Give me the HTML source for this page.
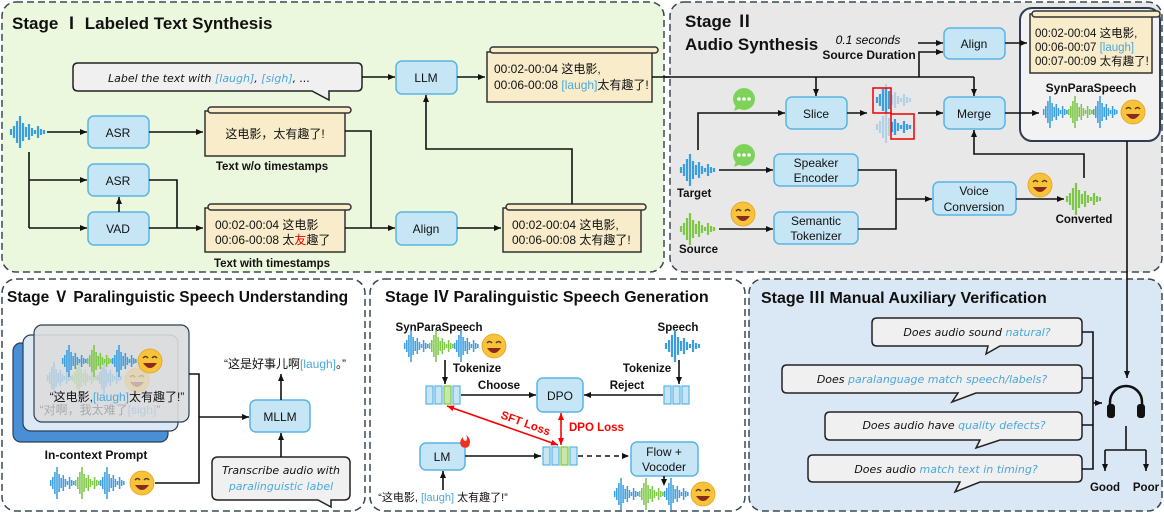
<!DOCTYPE html>
<html><head><meta charset="utf-8"><style>
html,body{margin:0;padding:0;background:#fff}
svg{display:block}
text{font-family:"Liberation Sans","Noto Sans CJK SC",sans-serif}
.t{font-weight:bold;font-size:17px;fill:#111}
.b{font-size:12px;fill:#111}
.lb{font-weight:bold;font-size:11.5px;fill:#111}
.hw{font-family:"DejaVu Sans","Noto Sans CJK SC",sans-serif;font-style:italic;font-size:11px;fill:#111}
.bl{fill:#4aa8dc}
.box{fill:#c6e6f6;stroke:#5ab4e6;stroke-width:1.5}
.sc{fill:#f8ecca;stroke:#333;stroke-width:1.5}
.ln{fill:none;stroke:#111;stroke-width:1.6}
.bub{fill:#f0f0f0;stroke:#222;stroke-width:1.5}
</style></head><body>
<svg width="1164" height="513" viewBox="0 0 1164 513" xmlns="http://www.w3.org/2000/svg">
<defs>
<marker id="a" markerWidth="8" markerHeight="8" refX="7" refY="4" orient="auto" markerUnits="userSpaceOnUse"><path d="M0,1 L7,4 L0,7 Z" fill="#111"/></marker>
<marker id="r" markerWidth="8" markerHeight="8" refX="7" refY="4" orient="auto-start-reverse" markerUnits="userSpaceOnUse"><path d="M0,1 L7,4 L0,7 Z" fill="#f00"/></marker>
<g id="wb"><g stroke="#3a9ee0" stroke-width="2.2">
<line x1="1" y1="-3" x2="1" y2="3"/><line x1="4" y1="-6" x2="4" y2="6"/><line x1="7" y1="-11" x2="7" y2="11"/><line x1="10" y1="-16" x2="10" y2="16"/><line x1="13" y1="-9" x2="13" y2="9"/><line x1="16" y1="-5" x2="16" y2="5"/><line x1="19" y1="-8" x2="19" y2="8"/><line x1="22" y1="-4" x2="22" y2="4"/><line x1="25" y1="-2" x2="25" y2="2"/><line x1="28" y1="-6" x2="28" y2="6"/><line x1="31" y1="-3" x2="31" y2="3"/><line x1="34" y1="-2" x2="34" y2="2"/></g></g>
<g id="wg"><g stroke="#7cc746" stroke-width="2.2">
<line x1="1" y1="-3" x2="1" y2="3"/><line x1="4" y1="-6" x2="4" y2="6"/><line x1="7" y1="-11" x2="7" y2="11"/><line x1="10" y1="-16" x2="10" y2="16"/><line x1="13" y1="-9" x2="13" y2="9"/><line x1="16" y1="-5" x2="16" y2="5"/><line x1="19" y1="-8" x2="19" y2="8"/><line x1="22" y1="-4" x2="22" y2="4"/><line x1="25" y1="-2" x2="25" y2="2"/><line x1="28" y1="-6" x2="28" y2="6"/><line x1="31" y1="-3" x2="31" y2="3"/><line x1="34" y1="-2" x2="34" y2="2"/></g></g>
<g id="w3"><use href="#wb" transform="scale(0.7,1)"/><use href="#wg" transform="translate(25,0) scale(0.7,1)"/><use href="#wb" transform="translate(50,0) scale(0.7,1)"/></g>
<g id="emo"><circle r="12" fill="#f7c33a" stroke="#e8a020" stroke-width="0.8"/><path d="M-7,-3 q2.5,-3 5,0 M2,-3 q2.5,-3 5,0" stroke="#5a3a10" stroke-width="1.5" fill="none"/><path d="M-7,2 q7,10 14,0 z" fill="#8a2a1a"/></g>
<g id="chat"><circle r="11" fill="#7dd35a"/><path d="M-8,6 L-10,12 L-3,9 Z" fill="#7dd35a"/><circle cx="-5" r="1.8" fill="#fff"/><circle r="1.8" fill="#fff"/><circle cx="5" r="1.8" fill="#fff"/></g>
<clipPath id="c1" clipPathUnits="userSpaceOnUse"><rect x="873" y="88" width="18" height="25"/></clipPath>
<clipPath id="c2" clipPathUnits="userSpaceOnUse"><rect x="891" y="114" width="23" height="25"/></clipPath>
</defs>

<!-- Stage I -->
<rect x="2" y="2" width="662" height="270" rx="14" fill="#ebf8dd" stroke="#3a4a55" stroke-width="1.5" stroke-dasharray="7,4"/>
<text x="12" y="29" class="t">Stage Ⅰ Labeled Text Synthesis</text>
<path class="bub" d="M78,63 H357 q5,0 5,5 V86 q0,5 -5,5 H329 L329,100 L312,91 H78 q-5,0 -5,-5 V68 q0,-5 5,-5 Z"/>
<text x="108" y="82" class="hw">Label the text with <tspan class="bl">[laugh]</tspan>, <tspan class="bl">[sigh]</tspan>, ...</text>
<line class="ln" x1="362" y1="77" x2="395" y2="77" marker-end="url(#a)"/>
<rect class="box" x="396" y="61" width="61" height="33" rx="6"/><text x="426" y="82" class="b" text-anchor="middle">LLM</text>
<line class="ln" x1="457" y1="77" x2="485" y2="77" marker-end="url(#a)"/>
<rect class="sc" x="487" y="52" width="165" height="50"/><rect class="sc" x="490" y="47" width="168" height="6" rx="3"/>
<text x="494" y="73" class="b">00:02-00:04 这电影,</text><text x="494" y="89" class="b">00:06-00:08 <tspan class="bl">[laugh]</tspan>太有趣了!</text>
<line class="ln" x1="652" y1="77" x2="974" y2="77"/>
<use href="#wb" x="10" y="132"/>
<line class="ln" x1="47" y1="132" x2="87" y2="132" marker-end="url(#a)"/>
<rect class="box" x="88" y="116" width="61" height="32" rx="6"/><text x="118" y="137" class="b" text-anchor="middle">ASR</text>
<line class="ln" x1="149" y1="132" x2="203" y2="132" marker-end="url(#a)"/>
<rect class="sc" x="205" y="111" width="140" height="45"/><rect class="sc" x="208" y="107" width="143" height="6" rx="3"/>
<text x="275" y="138" class="b" text-anchor="middle">这电影，太有趣了!</text>
<text x="272" y="170" class="lb" text-anchor="middle">Text w/o timestamps</text>
<path class="ln" d="M29,152 V228"/>
<line class="ln" x1="29" y1="180" x2="87" y2="180" marker-end="url(#a)"/>
<line class="ln" x1="29" y1="228" x2="87" y2="228" marker-end="url(#a)"/>
<rect class="box" x="88" y="164" width="61" height="32" rx="6"/><text x="118" y="185" class="b" text-anchor="middle">ASR</text>
<rect class="box" x="88" y="212" width="61" height="33" rx="6"/><text x="118" y="233" class="b" text-anchor="middle">VAD</text>
<line class="ln" x1="119" y1="212" x2="119" y2="197" marker-end="url(#a)"/>
<path class="ln" d="M149,180 H177 V228"/>
<line class="ln" x1="149" y1="228" x2="203" y2="228" marker-end="url(#a)"/>
<rect class="sc" x="205" y="208" width="140" height="44"/><rect class="sc" x="208" y="204" width="143" height="6" rx="3"/>
<text x="215" y="229" class="b">00:02-00:04 这电影</text><text x="215" y="244" class="b">00:06-00:08 太<tspan fill="#e00">友</tspan>趣了</text>
<text x="272" y="267" class="lb" text-anchor="middle">Text with timestamps</text>
<path class="ln" d="M345,131 H371 V228"/>
<line class="ln" x1="345" y1="228" x2="395" y2="228" marker-end="url(#a)"/>
<rect class="box" x="396" y="212" width="61" height="33" rx="6"/><text x="426" y="233" class="b" text-anchor="middle">Align</text>
<line class="ln" x1="457" y1="228" x2="501" y2="228" marker-end="url(#a)"/>
<rect class="sc" x="503" y="208" width="138" height="44"/><rect class="sc" x="506" y="204" width="140" height="6" rx="3"/>
<text x="512" y="229" class="b">00:02-00:04 这电影,</text><text x="512" y="244" class="b">00:06-00:08 太有趣了!</text>
<path class="ln" d="M572,204 V149 H426 V95" marker-end="url(#a)"/>

<!-- Stage II -->
<rect x="670" y="2" width="492" height="270" rx="14" fill="#e8e8e8" stroke="#3a4a55" stroke-width="1.5" stroke-dasharray="7,4"/>
<line class="ln" x1="664" y1="77" x2="974" y2="77"/>
<text x="685" y="27" class="t">Stage Ⅱ</text><text x="685" y="50" class="t">Audio Synthesis</text>
<text x="868" y="44" text-anchor="middle" style="font-style:italic;font-size:12px">0.1 seconds</text>
<text x="869" y="59" text-anchor="middle" class="lb" style="font-size:12px">Source Duration</text>
<line class="ln" x1="918" y1="43" x2="943" y2="43" marker-end="url(#a)"/>
<path class="ln" d="M919,77 V52 H943" marker-end="url(#a)"/>
<rect class="box" x="944" y="28" width="61" height="31" rx="6"/><text x="974" y="48" class="b" text-anchor="middle">Align</text>
<rect x="1020" y="8" width="140" height="133" rx="12" fill="#f2f2f2" stroke="#2c3e50" stroke-width="2"/>
<line class="ln" x1="1005" y1="43" x2="1027" y2="43" marker-end="url(#a)"/>
<rect class="sc" x="1030" y="14" width="122" height="59"/><rect class="sc" x="1032" y="11" width="128" height="6" rx="3"/>
<text x="1035" y="37" class="b" style="font-size:11.5px">00:02-00:04 这电影,</text>
<text x="1035" y="51" class="b" style="font-size:11.5px">00:06-00:07 <tspan class="bl">[laugh]</tspan></text>
<text x="1035" y="65" class="b" style="font-size:11.5px">00:07-00:09 太有趣了!</text>
<text x="1091" y="92" text-anchor="middle" class="lb" style="font-size:12px">SynParaSpeech</text>
<use href="#w3" x="1043" y="112"/>
<use href="#emo" x="1133" y="112"/>
<line class="ln" x1="816" y1="77" x2="816" y2="96" marker-end="url(#a)"/>
<line class="ln" x1="974" y1="77" x2="974" y2="96" marker-end="url(#a)"/>
<rect class="box" x="786" y="97" width="61" height="32" rx="6"/><text x="816" y="118" class="b" text-anchor="middle">Slice</text>
<rect class="box" x="944" y="97" width="61" height="32" rx="6"/><text x="974" y="118" class="b" text-anchor="middle">Merge</text>
<line class="ln" x1="847" y1="113" x2="867" y2="113" marker-end="url(#a)"/>
<g opacity="0.3"><use href="#wb" x="876" y="100"/><use href="#wb" x="876" y="127"/></g>
<g clip-path="url(#c1)"><use href="#wb" x="876" y="100"/></g>
<g clip-path="url(#c2)"><use href="#wb" x="876" y="127"/></g>
<rect x="873" y="88" width="18" height="25" fill="none" stroke="#e00" stroke-width="1.5"/>
<rect x="891" y="114" width="23" height="25" fill="none" stroke="#e00" stroke-width="1.5"/>
<line class="ln" x1="918" y1="113" x2="943" y2="113" marker-end="url(#a)"/>
<line class="ln" x1="1005" y1="113" x2="1039" y2="113" marker-end="url(#a)"/>
<use href="#chat" x="744" y="99"/><use href="#chat" x="744" y="155"/>
<path class="ln" d="M698,150 V113 H785" marker-end="url(#a)"/>
<use href="#wb" x="680" y="170"/>
<text x="677" y="197" class="lb">Target</text>
<line class="ln" x1="719" y1="170" x2="773" y2="170" marker-end="url(#a)"/>
<rect class="box" x="774" y="154" width="84" height="32" rx="6"/><text x="816" y="167" class="b" text-anchor="middle">Speaker</text><text x="816" y="182" class="b" text-anchor="middle">Encoder</text>
<use href="#wg" x="680" y="229"/>
<text x="679" y="253" class="lb">Source</text>
<use href="#emo" x="743" y="214"/>
<line class="ln" x1="719" y1="229" x2="773" y2="229" marker-end="url(#a)"/>
<rect class="box" x="774" y="212" width="84" height="32" rx="6"/><text x="816" y="225" class="b" text-anchor="middle">Semantic</text><text x="816" y="240" class="b" text-anchor="middle">Tokenizer</text>
<path class="ln" d="M858,170 H896 V229 H858"/>
<line class="ln" x1="896" y1="199" x2="932" y2="199" marker-end="url(#a)"/>
<rect class="box" x="933" y="182" width="83" height="33" rx="6"/><text x="974" y="195" class="b" text-anchor="middle">Voice</text><text x="974" y="211" class="b" text-anchor="middle">Conversion</text>
<line class="ln" x1="1016" y1="199" x2="1064" y2="199" marker-end="url(#a)"/>
<use href="#emo" x="1040" y="185"/>
<use href="#wg" x="1066" y="199"/>
<text x="1084" y="223" text-anchor="middle" class="lb">Converted</text>
<path class="ln" d="M1084,178 V154 H974 V130" marker-end="url(#a)"/>

<!-- Stage V -->
<rect x="2" y="279" width="363" height="232" rx="14" fill="#fff" stroke="#3a4a55" stroke-width="1.5" stroke-dasharray="7,4"/>
<text x="7" y="302" class="t" style="font-size:15.5px">Stage Ⅴ Paralinguistic Speech Understanding</text>
<rect x="13" y="343" width="155" height="99" rx="8" fill="#4a8fd6" stroke="#2c3e50" stroke-width="1.2"/>
<rect x="23" y="335" width="155" height="96" rx="8" fill="#dce9f5" stroke="#2c3e50" stroke-width="1.2"/>
<rect x="34" y="325" width="155" height="97" rx="8" fill="#dadcdd" fill-opacity="0.9" stroke="#2c3e50" stroke-width="1.2"/>
<g opacity="0.25"><use href="#w3" x="47" y="378"/><use href="#emo" x="137" y="380"/></g>
<use href="#w3" x="62" y="361"/>
<use href="#emo" x="150" y="361"/>
<text x="117" y="401" text-anchor="middle" class="b">“这电影,<tspan class="bl">[laugh]</tspan>太有趣了!”</text>
<text x="100" y="414" text-anchor="middle" class="b" style="fill:#aaa">“对啊，我太难了<tspan fill="#bcd">[sigh]</tspan>”</text>
<text x="96" y="459" text-anchor="middle" class="lb" style="font-size:12px">In-context Prompt</text>
<use href="#w3" x="50" y="483"/><use href="#emo" x="142" y="483"/>
<path class="ln" d="M189,374 H199 V483 H155"/>
<line class="ln" x1="199" y1="417" x2="249" y2="417" marker-end="url(#a)"/>
<rect class="box" x="250" y="400" width="60" height="32" rx="6"/><text x="280" y="421" class="b" text-anchor="middle">MLLM</text>
<line class="ln" x1="281" y1="400" x2="281" y2="374" marker-end="url(#a)"/>
<text x="285" y="368" text-anchor="middle" class="b">“这是好事儿啊<tspan class="bl">[laugh]</tspan>。”</text>
<path class="bub" d="M218,457 H344 q6,0 6,6 V494 q0,6 -6,6 H331 L331,507 L318,500 H218 q-6,0 -6,-6 V463 q0,-6 6,-6 Z"/>
<text x="281" y="474" text-anchor="middle" class="hw">Transcribe audio with</text>
<text x="281" y="490" text-anchor="middle" class="hw bl">paralinguistic label</text>
<line class="ln" x1="281" y1="457" x2="281" y2="433" marker-end="url(#a)"/>

<!-- Stage IV -->
<rect x="370" y="279" width="375" height="232" rx="14" fill="#fff" stroke="#3a4a55" stroke-width="1.5" stroke-dasharray="7,4"/>
<text x="385" y="302" class="t" style="font-size:16px">Stage Ⅳ Paralinguistic Speech Generation</text>
<text x="439" y="331" text-anchor="middle" class="lb">SynParaSpeech</text>
<use href="#w3" x="404" y="346"/><use href="#emo" x="494" y="346"/>
<text x="678" y="331" text-anchor="middle" class="lb">Speech</text>
<use href="#wb" x="665" y="346"/>
<text x="477" y="372" text-anchor="middle" class="lb">Tokenize</text>
<text x="647" y="372" text-anchor="middle" class="lb">Tokenize</text>
<text x="499" y="389" text-anchor="middle" class="lb">Choose</text>
<text x="627" y="389" text-anchor="middle" class="lb">Reject</text>
<line class="ln" x1="445" y1="360" x2="445" y2="384" marker-end="url(#a)"/>
<line class="ln" x1="679" y1="360" x2="679" y2="384" marker-end="url(#a)"/>
<g stroke="#5ab4e6" stroke-width="1.2" fill="#c6e6f6"><rect x="426" y="386" width="7" height="18"/><rect x="435" y="386" width="7" height="18"/><rect x="444" y="386" width="7" height="18" fill="#c8e8a8" stroke="#7cc746"/><rect x="453" y="386" width="7" height="18"/>
<rect x="664" y="386" width="7" height="18"/><rect x="673" y="386" width="7" height="18"/><rect x="682" y="386" width="7" height="18"/>
<rect x="543" y="447" width="7" height="18"/><rect x="552" y="447" width="7" height="18"/><rect x="561" y="447" width="7" height="18" fill="#c8e8a8" stroke="#7cc746"/><rect x="570" y="447" width="7" height="18"/></g>
<line class="ln" x1="461" y1="395" x2="536" y2="395" marker-end="url(#a)"/>
<line class="ln" x1="663" y1="395" x2="584" y2="395" marker-end="url(#a)"/>
<rect class="box" x="537" y="378" width="46" height="34" rx="6"/><text x="560" y="400" class="b" text-anchor="middle">DPO</text>
<line x1="447" y1="406" x2="558" y2="445" stroke="#f00" stroke-width="1.6" marker-start="url(#r)" marker-end="url(#r)"/>
<text x="500" y="418" fill="#f00" style="font-weight:bold;font-size:11.5px" transform="rotate(20 500 418)">SFT Loss</text>
<line x1="561" y1="413" x2="561" y2="445" stroke="#f00" stroke-width="1.6" marker-start="url(#r)" marker-end="url(#r)"/>
<text x="569" y="431" class="lb" style="fill:#f00">DPO Loss</text>
<rect class="box" x="420" y="443" width="45" height="27" rx="6"/><text x="442" y="461" class="b" text-anchor="middle">LM</text>
<path d="M462,447 q-4,-5 1,-10 q0,4 3,4 q2,-3 0,-6 q6,4 3,11 q-2,3 -7,1 z" fill="#f03020"/>
<line class="ln" x1="465" y1="456" x2="541" y2="456" marker-end="url(#a)"/>
<line class="ln" x1="578" y1="456" x2="629" y2="456" stroke-dasharray="5,4" marker-end="url(#a)"/>
<rect class="box" x="631" y="442" width="67" height="34" rx="6"/><text x="664" y="456" class="b" text-anchor="middle">Flow +</text><text x="664" y="471" class="b" text-anchor="middle">Vocoder</text>
<line class="ln" x1="664" y1="476" x2="664" y2="486" stroke-dasharray="3,2" marker-end="url(#a)"/>
<use href="#w3" x="614" y="494"/><use href="#emo" x="703" y="494"/>
<line class="ln" x1="443" y1="490" x2="443" y2="471" marker-end="url(#a)"/>
<text x="443" y="501" text-anchor="middle" class="b" style="font-size:11px">“这电影, <tspan class="bl">[laugh]</tspan> 太有趣了!”</text>

<!-- Stage III -->
<rect x="749" y="279" width="413" height="232" rx="14" fill="#dae8f5" stroke="#3a4a55" stroke-width="1.5" stroke-dasharray="7,4"/>
<line class="ln" x1="1127" y1="141" x2="1127" y2="378" marker-end="url(#a)"/>
<text x="761" y="303" class="t" style="font-size:16px">Stage Ⅲ Manual Auxiliary Verification</text>
<path class="bub" d="M877,318 H1077 q5,0 5,5 V341 q0,5 -5,5 H1000 L986,354 L988,346 H877 q-5,0 -5,-5 V323 q0,-5 5,-5 Z"/>
<text x="977" y="336" text-anchor="middle" class="hw">Does audio sound <tspan class="bl">natural?</tspan></text>
<path class="bub" d="M787,365 H1077 q5,0 5,5 V388 q0,5 -5,5 H976 L952,402 L958,393 H787 q-5,0 -5,-5 V370 q0,-5 5,-5 Z"/>
<text x="932" y="383" text-anchor="middle" class="hw">Does <tspan class="bl">paralanguage match speech/labels?</tspan></text>
<path class="bub" d="M830,412 H1077 q5,0 5,5 V435 q0,5 -5,5 H1000 L976,448 L980,440 H830 q-5,0 -5,-5 V417 q0,-5 5,-5 Z"/>
<text x="954" y="429" text-anchor="middle" class="hw">Does audio have <tspan class="bl">quality defects?</tspan></text>
<path class="bub" d="M813,455 H1077 q5,0 5,5 V477 q0,5 -5,5 H980 L955,492 L960,482 H813 q-5,0 -5,-5 V460 q0,-5 5,-5 Z"/>
<text x="946" y="473" text-anchor="middle" class="hw">Does audio <tspan class="bl">match text in timing?</tspan></text>
<path class="ln" d="M1082,332 H1093 V469 H1082 M1082,378 H1093 M1082,425 H1093"/>
<line class="ln" x1="1093" y1="403" x2="1102" y2="403" marker-end="url(#a)"/>
<path d="M1110,410 V402 a16,16 0 0 1 32,0 V410" fill="none" stroke="#111" stroke-width="2.5"/>
<rect x="1107" y="404" width="8" height="14" rx="3" fill="#111"/><rect x="1137" y="404" width="8" height="14" rx="3" fill="#111"/>
<path class="ln" d="M1126,426 V450 M1105,450 H1146"/>
<line class="ln" x1="1105" y1="450" x2="1105" y2="471" marker-end="url(#a)"/>
<line class="ln" x1="1146" y1="450" x2="1146" y2="471" marker-end="url(#a)"/>
<text x="1105" y="491" text-anchor="middle" class="lb">Good</text>
<text x="1146" y="491" text-anchor="middle" class="lb">Poor</text>
</svg>
</body></html>
